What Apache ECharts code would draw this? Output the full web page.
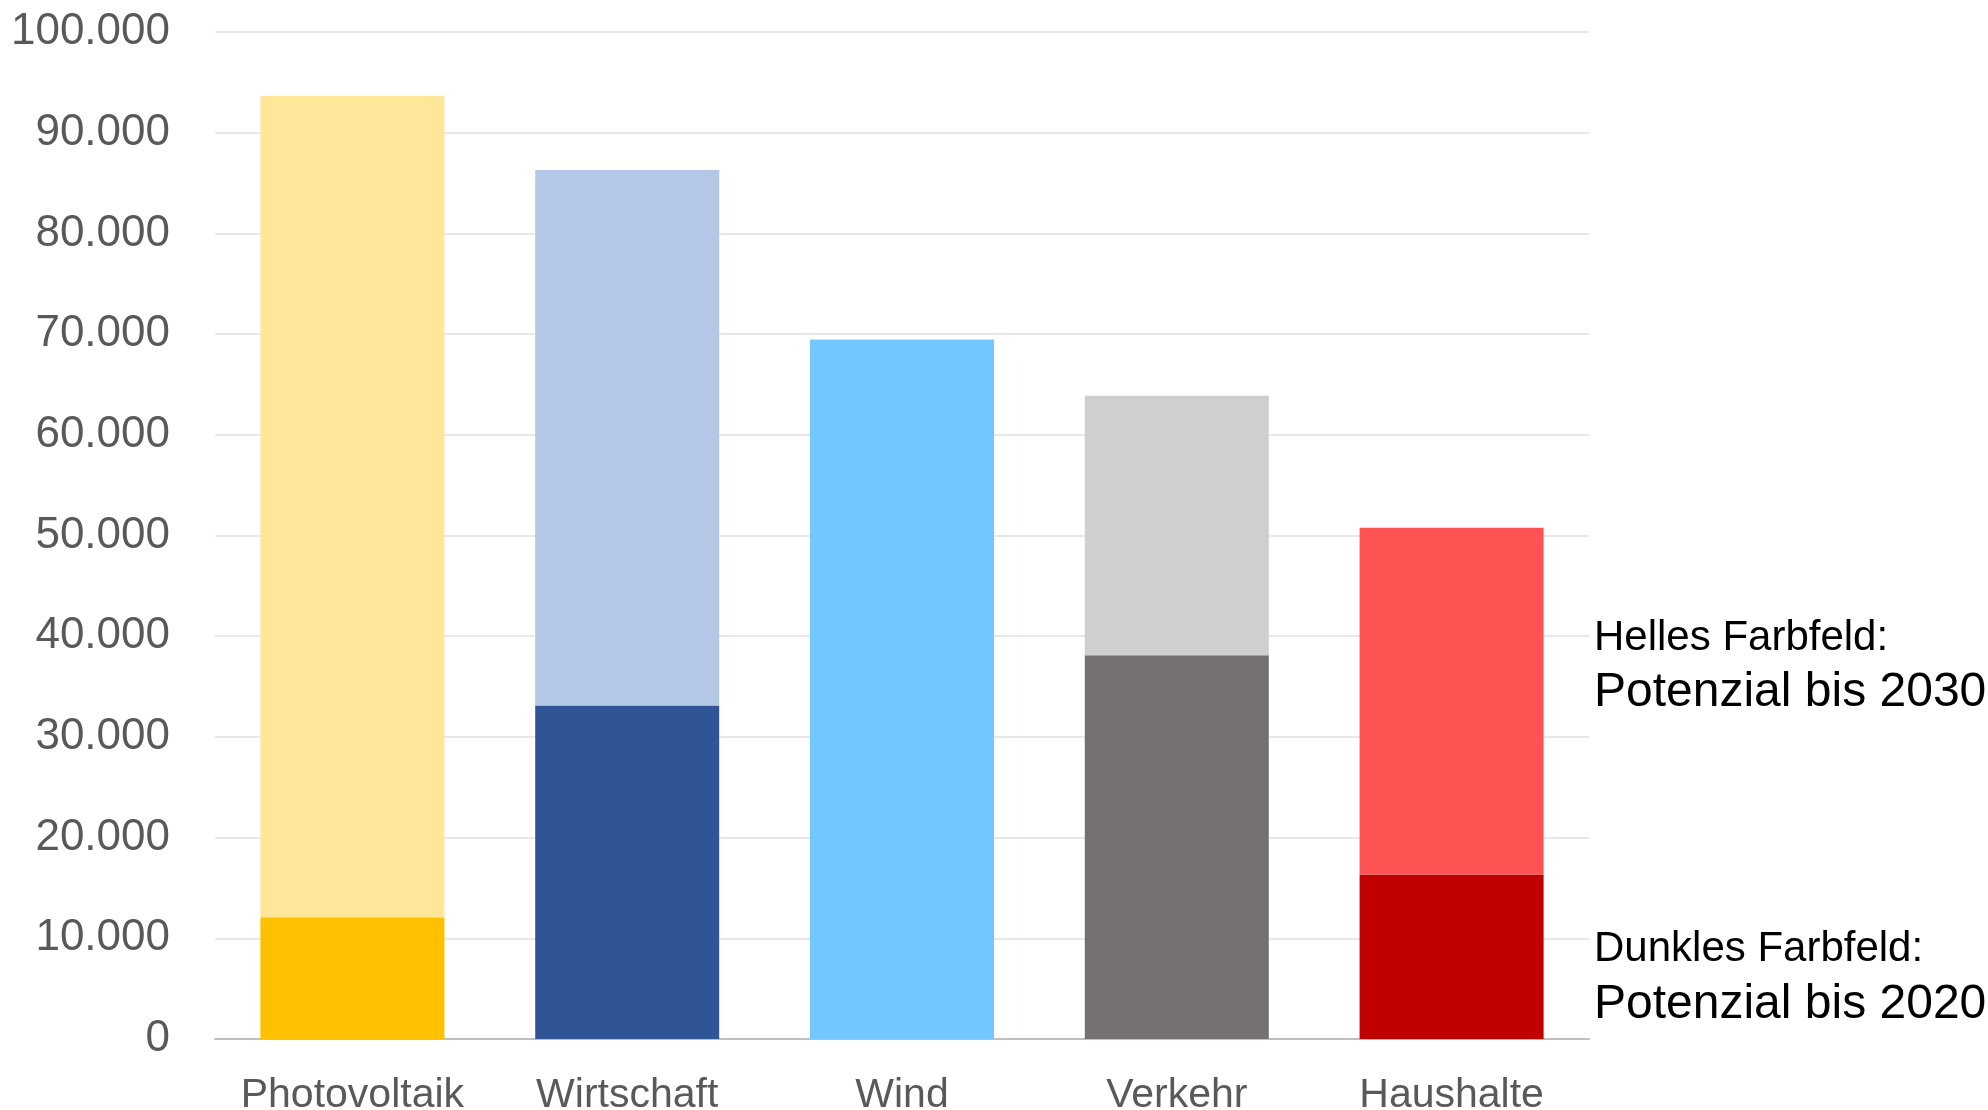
<!DOCTYPE html>
<html>
<head>
<meta charset="utf-8">
<script src="https://cdn.jsdelivr.net/npm/echarts@6/dist/echarts.min.js"></script>
<style>
  html, body { margin: 0; padding: 0; background: #fff; }
  #main { width: 1988px; height: 1110px; }
</style>
</head>
<body>
<div id="main"></div>
<script>
// Kategorien und Werte
var categories = ['Photovoltaik', 'Wirtschaft', 'Wind', 'Verkehr', 'Haushalte'];
var potenzial2020 = [12100, 33130, 0, 38110, 16330];   // dunkles Farbfeld
var potenzial2030 = [93670, 86300, 69470, 63880, 50780]; // Gesamthöhe
var yTicks = [0, 10000, 20000, 30000, 40000, 50000, 60000, 70000, 80000, 90000, 100000];

var darkColors = ['#FFC000', '#2F5597', '#72C7FF', '#767171', '#C00000'];
var lightColors = ['#FFE699', '#B4C7E7', '#72C7FF', '#D0CECE', '#FF5252'];

var labelFont = '"Liberation Sans", Arial, sans-serif';

// Helles Feld = Differenz bis zur Gesamthöhe
var darkData = [], lightData = [];
for (var i = 0; i < categories.length; i++) {
    darkData.push({ value: potenzial2020[i], itemStyle: { color: darkColors[i] } });
    lightData.push({ value: potenzial2030[i] - potenzial2020[i], itemStyle: { color: lightColors[i] } });
}

function note(txt, y, size) {
    return {
        type: 'text', x: 1594, y: y,
        style: { text: txt, fill: '#000', fontSize: size, fontFamily: labelFont, verticalAlign: 'middle', align: 'left' }
    };
}

var chart = echarts.init(document.getElementById('main'));
chart.setOption({
    animation: false,
    grid: { left: 215, right: 399, top: 32, bottom: 71, containLabel: false, outerBoundsMode: 'none' },
    xAxis: {
        type: 'category',
        data: categories,
        axisTick: { show: false },
        axisLine: { lineStyle: { color: '#BFBFBF', width: 2 } },
        axisLabel: {
            color: '#595959', fontSize: 41, fontFamily: labelFont,
            margin: 36, lineHeight: 41, interval: 0
        }
    },
    yAxis: {
        type: 'value',
        min: yTicks[0],
        max: yTicks[yTicks.length - 1],
        interval: 10000,
        axisLine: { show: false },
        axisTick: { show: false },
        splitLine: { lineStyle: { color: '#E8E8E8', width: 2 } },
        axisLabel: {
            color: '#595959', fontSize: 44, fontFamily: labelFont, margin: 45,
            formatter: function (v) {
                return v === 0 ? '0' : (v / 1000) + '.000';
            }
        }
    },
    series: [
        { name: 'Potenzial bis 2020', type: 'bar', stack: 'p', barWidth: 184, data: darkData },
        { name: 'Potenzial bis 2030', type: 'bar', stack: 'p', barWidth: 184, data: lightData }
    ],
    graphic: [
        note('Helles Farbfeld:', 638, 42),
        note('Potenzial bis 2030', 693, 48),
        note('Dunkles Farbfeld:', 949, 42),
        note('Potenzial bis 2020', 1005, 48)
    ]
});
</script>
</body>
</html>
